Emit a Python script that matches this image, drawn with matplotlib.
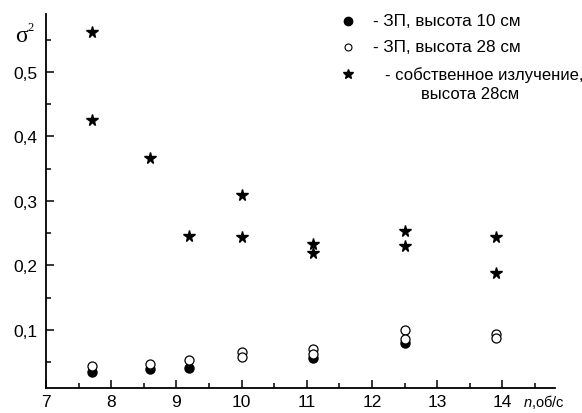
import matplotlib

matplotlib.use('Agg')
import numpy as np
import matplotlib.pyplot as plt
from matplotlib.ticker import MultipleLocator, FuncFormatter

# 3П, height 10 cm
n_10 = [7.7, 8.6, 9.2, 11.1, 12.5]
sigma_10 = [0.035, 0.039, 0.041, 0.057, 0.080]

# 3П, height 28 cm
n_28 = [7.7, 8.6, 9.2, 10.0, 10.0, 11.1, 11.1, 12.5, 12.5, 13.9, 13.9]
sigma_28 = [0.044, 0.047, 0.053, 0.066, 0.058, 0.071, 0.063, 0.100, 0.086, 0.094, 0.088]

# own emission, height 28 cm
n_own = [7.7, 7.7, 8.6, 9.2, 10.0, 10.0, 11.1, 11.1, 12.5, 12.5, 13.9, 13.9]
sigma_own = [0.562, 0.426, 0.367, 0.246, 0.309, 0.244, 0.233, 0.220, 0.253, 0.230, 0.244, 0.188]

legend_labels = ["- ЗП, высота 10 см", "- ЗП, высота 28 см", "- собственное излучение,", "высота 28см"]

plt.rcParams['font.family'] = ['Liberation Sans', 'DejaVu Sans']
plt.rcParams['mathtext.fontset'] = 'custom'
plt.rcParams['mathtext.it'] = 'Liberation Sans:italic'
plt.rcParams['mathtext.rm'] = 'Liberation Sans'

fig = plt.figure(figsize=(5.82, 4.14), dpi=100)
ax = fig.add_axes([0.079, 0.0604, 0.875, 0.9036])

ax.plot(n_10, sigma_10, 'o', color='black', markersize=6.5, linestyle='none')
ax.plot(n_28, sigma_28, 'o', markerfacecolor='white', markeredgecolor='black',
        markeredgewidth=0.9, markersize=6.5, linestyle='none')
ax.plot(n_own, sigma_own, '*', color='black', markersize=8.5, linestyle='none')

ax.set_xlim(7, 14.81)
ax.set_ylim(0.01, 0.59)

ax.spines['top'].set_visible(False)
ax.spines['right'].set_visible(False)
for s in ['left', 'bottom']:
    ax.spines[s].set_linewidth(1.3)

ax.xaxis.set_major_locator(MultipleLocator(1))
ax.xaxis.set_minor_locator(MultipleLocator(0.5))
ax.yaxis.set_major_locator(MultipleLocator(0.1))
ax.yaxis.set_minor_locator(MultipleLocator(0.05))
ax.yaxis.set_major_formatter(FuncFormatter(lambda v, p: ('%.1f' % v).replace('.', ',') if 0.05 < v < 0.55 else ''))
ax.xaxis.set_major_formatter(FuncFormatter(lambda v, p: '%d' % v))
ax.tick_params(which='both', direction='in', width=1.1, labelsize=12.5)
ax.tick_params(which='major', length=6)
ax.tick_params(which='minor', length=3.5)
ax.tick_params(axis='x', pad=4)
ax.tick_params(axis='y', pad=6)

# axis titles, placed in pixel-derived axes fractions
ax.text((15 - 46) / 509, (389 - 37) / 374, 'σ', transform=ax.transAxes, fontsize=17,
        family='Liberation Serif', ha='left', va='center')
ax.text((27 - 46) / 509, (389 - 28) / 374, '2', transform=ax.transAxes, fontsize=9,
        family='Liberation Serif', ha='left', va='center')
ax.text((523 - 46) / 509, (389 - 402) / 374, r'$n$,об/с', transform=ax.transAxes,
        fontsize=10.5, ha='left', va='center', clip_on=False)

# legend drawn by hand in axes coordinates
leg_x_marker = (348 - 46) / 509
leg_x_text = (373 - 46) / 509
rows_y = [(389 - 22) / 374, (389 - 48) / 374, (389 - 75) / 374, (389 - 95) / 374]
ax.plot([leg_x_marker], [rows_y[0]], 'o', color='black', markersize=6,
        transform=ax.transAxes, clip_on=False)
ax.plot([leg_x_marker], [rows_y[1]], 'o', markerfacecolor='white', markeredgecolor='black',
        markeredgewidth=0.8, markersize=5, transform=ax.transAxes, clip_on=False)
ax.plot([leg_x_marker], [rows_y[2]], '*', color='black', markersize=7,
        transform=ax.transAxes, clip_on=False)
ax.text(leg_x_text, rows_y[0], legend_labels[0], transform=ax.transAxes,
        fontsize=12.3, ha='left', va='center')
ax.text(leg_x_text, rows_y[1], legend_labels[1], transform=ax.transAxes,
        fontsize=12.3, ha='left', va='center')
ax.text((385 - 46) / 509, rows_y[2], legend_labels[2], transform=ax.transAxes,
        fontsize=12, ha='left', va='center')
ax.text((470 - 46) / 509, rows_y[3], legend_labels[3], transform=ax.transAxes,
        fontsize=12, ha='center', va='center')

fig.savefig('out.png', dpi=100)
